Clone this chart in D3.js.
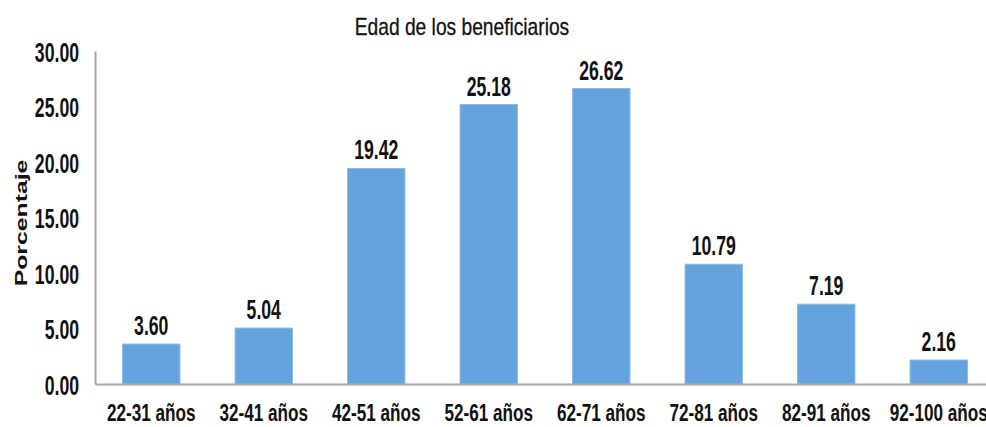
<!DOCTYPE html>
<html>
<head>
<meta charset="utf-8">
<script src="https://cdn.jsdelivr.net/npm/d3@7"></script>
<style>
  body { margin: 0; background: #fff; }
  text { font-family: "Liberation Sans", Arial, sans-serif; fill: #111; }
</style>
</head>
<body>
<div class="chart"></div>
<script>
var categories = ['22-31 años', '32-41 años', '42-51 años', '52-61 años', '62-71 años', '72-81 años', '82-91 años', '92-100 años'];
var values = [3.60, 5.04, 19.42, 25.18, 26.62, 10.79, 7.19, 2.16];
var yTicks = [0, 5, 10, 15, 20, 25, 30];

var size = { width: 986, height: 427 };

var svg = d3.select('.chart')
            .append('svg')
            .attr('width', size.width)
            .attr('height', size.height);

var x = d3.scaleBand()
          .domain(categories)
          .range([95, 995])
          .paddingInner(0.49)
          .paddingOuter(0.245);

var y = d3.scaleLinear()
          .domain([0, 30])
          .range([384, 51]);

// squeezed text, the picture is stretched vertically
var sx = 0.63;

// bars
svg.selectAll('rect.bar')
   .data(values)
   .enter()
   .append('rect')
   .attr('class', 'bar')
   .attr('x', function(d, i){ return x(categories[i]); })
   .attr('y', function(d){ return y(d); })
   .attr('width', x.bandwidth())
   .attr('height', function(d){ return y(0) - y(d); })
   .attr('fill', '#65a3de')
   .attr('stroke', '#8bbbe8')
   .attr('stroke-width', 1);

// value labels
svg.selectAll('text.val')
   .data(values)
   .enter()
   .append('text')
   .attr('class', 'val')
   .attr('transform', function(d, i){
     return 'translate(' + (x(categories[i]) + x.bandwidth() / 2) + ',' + (y(d) - 9) + ') scale(' + sx + ',1)';
   })
   .attr('text-anchor', 'middle')
   .style('font-size', '28px')
   .style('font-weight', 'bold')
   .text(function(d){ return d.toFixed(2); });

// y axis
var yAxis = d3.axisLeft(y)
              .tickValues(yTicks)
              .tickSize(0)
              .tickPadding(16)
              .tickFormat(function(d){ return d.toFixed(2); });

var gy = svg.append('g')
            .attr('transform', 'translate(95,0)')
            .call(yAxis);
gy.select('.domain').attr('stroke', '#a6a6a6').attr('stroke-width', 2);
gy.selectAll('.tick text')
  .attr('x', null)
  .attr('dy', null)
  .attr('transform', 'translate(-16,10) scale(' + sx + ',1)')
  .style('font-size', '28px')
  .style('font-weight', 'bold')
  .attr('fill', '#111');

// x axis
var xAxis = d3.axisBottom(x)
              .tickSize(0)
              .tickPadding(0);

var gx = svg.append('g')
            .attr('transform', 'translate(0,' + y(0) + ')')
            .call(xAxis);
gx.select('.domain').attr('stroke', '#a6a6a6').attr('stroke-width', 2);
gx.selectAll('.tick text')
  .attr('y', null)
  .attr('dy', null)
  .attr('transform', 'translate(0,37) scale(0.7,1)')
  .style('font-size', '24.5px')
  .style('font-weight', 'bold')
  .attr('fill', '#111');

// title
svg.append('text')
   .attr('transform', 'translate(462,35) scale(0.8,1)')
   .attr('text-anchor', 'middle')
   .style('font-size', '24px')
   .attr('stroke', '#111')
   .attr('stroke-width', 0.3)
   .text('Edad de los beneficiarios');

// y title
svg.append('text')
   .attr('transform', 'translate(27,223) rotate(-90) scale(1.55,1)')
   .attr('text-anchor', 'middle')
   .style('font-size', '16px')
   .style('font-weight', 'bold')
   .text('Porcentaje');
</script>
</body>
</html>
